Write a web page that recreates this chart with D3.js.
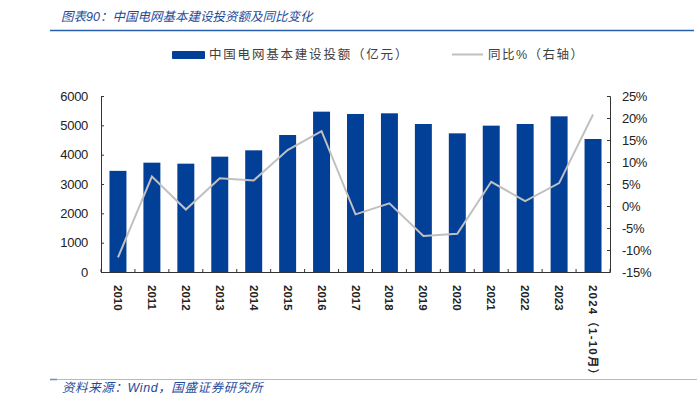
<!DOCTYPE html>
<html><head><meta charset="utf-8">
<script src="https://cdn.jsdelivr.net/npm/d3@7"></script>
<style>
body{margin:0;background:#fff;}
svg{display:block;}
text{font-family:"Liberation Sans","Noto Sans CJK SC",sans-serif;}
</style></head>
<body>
<svg id="chart" width="700" height="399"></svg>
<script>
const categories = ["2010","2011","2012","2013","2014","2015","2016","2017","2018","2019","2020","2021","2022","2023","2024（1-10月）"];
const investment = [3448,3727,3693,3932,4148,4670,5466,5387,5410,5045,4727,4989,5045,5307,4534];
const yoy = [-11.7,6.7,-0.8,6.3,5.8,12.7,17.0,-1.9,0.6,-6.8,-6.3,5.5,1.1,5.2,20.8];
const leftTicks = [0,1000,2000,3000,4000,5000,6000];
const rightTicks = [-15,-10,-5,0,5,10,15,20,25];

const svg = d3.select("#chart");
const m = {left:101, right:610, top:96, bottom:272};
const cjk = '"Noto Sans CJK SC",sans-serif';

// title
svg.append("text").attr("x",61).attr("y",21)
  .attr("font-family",cjk).attr("font-size",12.5).attr("font-style","italic")
  .attr("fill","#1f4a9a").text("图表90：中国电网基本建设投资额及同比变化");
svg.append("line").attr("x1",50).attr("x2",694).attr("y1",30.5).attr("y2",30.5)
  .attr("stroke","#2a5fae").attr("stroke-width",1.5);

// legend
svg.append("rect").attr("x",172).attr("y",51).attr("width",33).attr("height",8).attr("rx",1).attr("fill","#023f97");
svg.append("text").attr("x",209).attr("y",59).attr("font-family",cjk).attr("font-size",12.5)
  .attr("letter-spacing",1.8).attr("fill","#404040").text("中国电网基本建设投额（亿元）");
svg.append("line").attr("x1",452).attr("x2",483).attr("y1",54.5).attr("y2",54.5)
  .attr("stroke","#c0c0c0").attr("stroke-width",2);
svg.append("text").attr("x",488).attr("y",59).attr("font-family",cjk).attr("font-size",12.5)
  .attr("letter-spacing",1.5).attr("fill","#404040").text("同比%（右轴）");

const x = d3.scaleBand().domain(categories).range([m.left,m.right]).paddingInner(0.5).paddingOuter(0.25);
const yL = d3.scaleLinear().domain([0,6000]).range([m.bottom,m.top]);
const yR = d3.scaleLinear().domain([-15,25]).range([m.bottom,m.top]);

// bars
svg.append("g").selectAll("rect").data(investment).join("rect")
  .attr("x",(d,i)=>x(categories[i])).attr("width",x.bandwidth())
  .attr("y",d=>yL(d)).attr("height",d=>yL(0)-yL(d)).attr("fill","#023f97");

// line
const line = d3.line().x((d,i)=>x(categories[i])+x.bandwidth()/2).y(d=>yR(d));
svg.append("path").datum(yoy).attr("d",line).attr("fill","none")
  .attr("stroke","#c0c0c0").attr("stroke-width",2);

// left axis
const gL = svg.append("g").attr("transform",`translate(${m.left},0)`)
  .call(d3.axisLeft(yL).tickValues(leftTicks).tickSize(-3).tickPadding(13).tickFormat(d3.format("d")));
// right axis
const gR = svg.append("g").attr("transform",`translate(${m.right},0)`)
  .call(d3.axisRight(yR).tickValues(rightTicks).tickSize(-3).tickPadding(12).tickFormat(d=>d+"%"));
[gL,gR].forEach(g=>{
  g.select(".domain").attr("stroke","#333").attr("stroke-width",1);
  g.selectAll(".tick line").attr("stroke","#333");
  g.selectAll(".tick text").attr("font-size",13).attr("fill","#222").attr("font-family","'DejaVu Sans',sans-serif").attr("letter-spacing","-0.3");
});

// x axis
const gX = svg.append("g");
gX.append("line").attr("x1",m.left).attr("x2",m.right).attr("y1",m.bottom+0.5).attr("y2",m.bottom+0.5).attr("stroke","#333");
gX.selectAll("line.tk").data(d3.range(categories.length+1)).join("line").attr("class","tk")
  .attr("x1",i=>m.left+ i*(m.right-m.left)/categories.length).attr("x2",i=>m.left+ i*(m.right-m.left)/categories.length)
  .attr("y1",m.bottom-3).attr("y2",m.bottom).attr("stroke","#333");
gX.selectAll("text").data(categories).join("text")
  .attr("transform",d=>`translate(${x(d)+x.bandwidth()/2-4},${m.bottom+13}) rotate(90)`)
  .attr("font-family","'Liberation Sans','Noto Sans CJK SC',sans-serif").attr("font-size",11.5).attr("font-weight","bold")
  .attr("letter-spacing",d=>d.length>4?1.2:0)
  .attr("fill","#222").text(d=>d);

// footer
svg.append("line").attr("x1",50).attr("x2",697).attr("y1",379.5).attr("y2",379.5)
  .attr("stroke","#a8bcdc").attr("stroke-width",1);
svg.append("line").attr("x1",50).attr("x2",57).attr("y1",379.5).attr("y2",379.5)
  .attr("stroke","#6f8fc4").attr("stroke-width",1.5);
svg.append("text").attr("x",62).attr("y",392).attr("font-family",cjk).attr("font-size",12.5).attr("font-style","italic")
  .attr("letter-spacing",0.6).attr("fill","#1f4a9a").text("资料来源：Wind，国盛证券研究所");
</script>
</body></html>
